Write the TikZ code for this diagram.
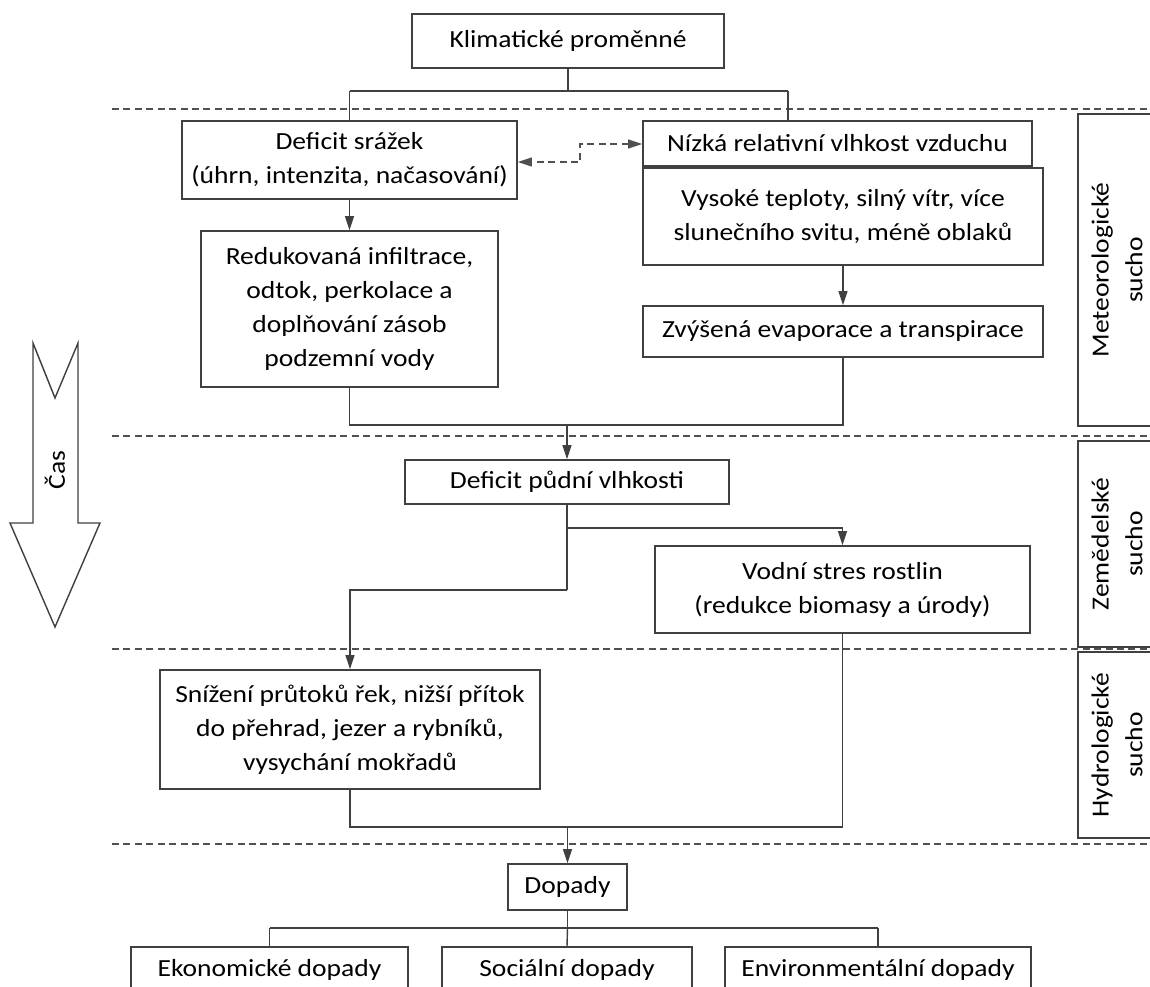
\documentclass[tikz,border=0pt]{standalone}
\usepackage{fontspec}
\setmainfont{Carlito}[FakeStretch=1.12]
\usetikzlibrary{arrows.meta}
\definecolor{linec}{HTML}{404040}
\definecolor{dashc}{HTML}{505050}
\begin{document}
\begin{tikzpicture}[x=0.02cm,y=-0.02cm,
  txt/.style={font=\fontsize{14pt}{19.3pt}\selectfont, text=black},
  bx/.style n args={2}{draw=linec, line width=0.8pt, minimum width=#1*0.02cm, minimum height=#2*0.02cm, align=center, inner sep=0pt, txt},
  conn/.style={draw=linec, line width=0.8pt},
  arr/.style={conn, -{Triangle[length=8pt,width=5pt]}},
  darr/.style={draw=dashc, line width=0.8pt, dash pattern=on 4pt off 2.5pt, {Triangle[length=8pt,width=5pt]}-{Triangle[length=8pt,width=5pt]}},
  divider/.style={draw=dashc, line width=0.8pt, dash pattern=on 4pt off 2.5pt},
  side/.style={draw=linec, line width=1.2pt},
  sidetxt/.style={txt, rotate=90, align=center, inner sep=0pt}
]
\useasboundingbox (0,0) rectangle (1150,987);
\clip (0,0) rectangle (1150,987);

% dividers
\foreach \yy/\nm in {109/d1,436/d2,649/d3,844/d4}{
  \coordinate (\nm a) at (112,\yy);
  \coordinate (\nm b) at (1150,\yy);
  \draw[divider] (\nm a) -- (\nm b);
}

% boxes
\node[bx={312}{54}] (klim) at (568,41) {Klimatické proměnné};
\node[bx={335}{78}] (defsr) at (349.5,160) {Deficit srážek\\(úhrn, intenzita, načasování)};
\node[bx={389}{45}] (nizka) at (837.5,143.5) {Nízká relativní vlhkost vzduchu};
\node[bx={400}{97}] (vysoke) at (843,216.5) {Vysoké teploty, silný vítr, více\\slunečního svitu, méně oblaků};
\node[bx={297}{156}] (reduk) at (349.5,309) {Redukovaná infiltrace,\\odtok, perkolace a\\doplňování zásob\\podzemní vody};
\node[bx={400}{51}] (zvys) at (843,331.5) {Zvýšená evaporace a transpirace};
\node[bx={324}{44}] (pudni) at (567,482) {Deficit půdní vlhkosti};
\node[bx={375}{87}] (vodni) at (842.5,589.5) {Vodní stres rostlin\\(redukce biomasy a úrody)};
\node[bx={380}{119}] (sniz) at (350,729.5) {Snížení průtoků řek, nižší přítok\\do přehrad, jezer a rybníků,\\vysychání mokřadů};
\node[bx={119}{46}] (dopady) at (567.5,887) {Dopady};
\node[bx={277}{46}] (ekon) at (269.5,970) {Ekonomické dopady};
\node[bx={250}{46}] (soc) at (567,970) {Sociální dopady};
\node[bx={306}{46}] (env) at (878,970) {Environmentální dopady};

% top split
\coordinate (j1) at (568,91);
\coordinate (j1l) at (349.5,91);
\coordinate (j1r) at (788,91);
\draw[conn] (klim.south) -- (j1);
\draw[conn] (j1l) -- (j1r);
\draw[conn] (j1l) -- (defsr.north);
\draw[conn] (j1r) -- (j1r |- nizka.north);

% dashed link
\coordinate (da) at (580,144);
\coordinate (db) at (580,162);
\draw[darr] (nizka.west |- da) -- (da) -- (db) -- (defsr.east |- db);

% meteorological arrows
\draw[arr] (defsr.south) -- (reduk.north);
\draw[arr] (vysoke.south) -- (zvys.north);

% merge to soil moisture
\coordinate (m1l) at (349.5,425);
\coordinate (m1r) at (843,425);
\coordinate (m1) at (567,425);
\draw[conn] (reduk.south) -- (m1l) -- (m1r) -- (zvys.south);
\draw[arr] (m1) -- (pudni.north);

% split from soil moisture
\coordinate (s1) at (567,528);
\coordinate (s1r) at (842.5,528);
\coordinate (s2) at (567,590);
\coordinate (s2l) at (350,590);
\draw[conn] (pudni.south) -- (s2);
\draw[arr] (s1) -- (s1r) -- (vodni.north);
\draw[arr] (s2) -- (s2l) -- (sniz.north);

% merge to impacts
\coordinate (m2l) at (350,827);
\coordinate (m2r) at (842.5,827);
\coordinate (m2) at (567.5,827);
\draw[conn] (sniz.south) -- (m2l) -- (m2r) -- (vodni.south);
\draw[arr] (m2) -- (dopady.north);

% impacts split
\coordinate (i1) at (567.5,928);
\coordinate (i1l) at (269.5,928);
\coordinate (i1r) at (878,928);
\draw[conn] (dopady.south) -- (i1);
\draw[conn] (i1l) -- (i1r);
\draw[conn] (i1l) -- (ekon.north);
\draw[conn] (i1) -- (soc.north);
\draw[conn] (i1r) -- (env.north);

% side labels
\draw[side] (1078,114) rectangle (1165,426);
\draw[side] (1078,441) rectangle (1165,647);
\draw[side] (1078,652) rectangle (1165,838);
\node[sidetxt] (meteo) at (1117,270) {Meteorologické\\sucho};
\node[sidetxt] (zemed) at (1117,544) {Zemědelské\\sucho};
\node[sidetxt] (hydro) at (1117,745) {Hydrologické\\sucho};

% time arrow
\draw[draw=linec, line width=0.8pt, fill=white] (33,343) -- (55,398) -- (78,343) -- (78,523) -- (100,523) -- (55,627) -- (10,523) -- (33,523) -- cycle;
\node[sidetxt] (cas) at (55,470) {Čas};
\end{tikzpicture}
\end{document}
